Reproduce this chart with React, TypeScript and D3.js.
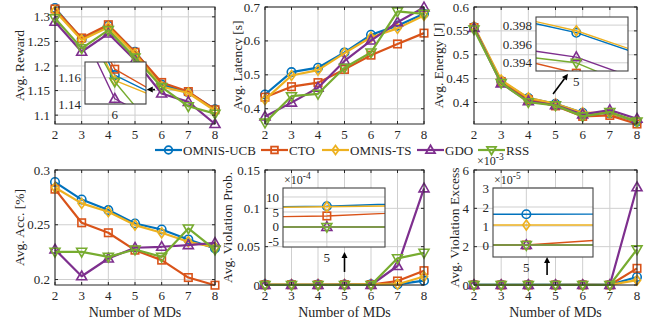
import React from "react";
import * as d3 from "d3";

// x values and series
const mds = [2, 3, 4, 5, 6, 7, 8];
const methods = ["OMNIS-UCB", "CTO", "OMNIS-TS", "GDO", "RSS"];
const colors = ["#0072BD", "#D95319", "#EDB120", "#7E2F8E", "#77AC30"];
const markers = ["o", "s", "d", "^", "v"];

// Avg. Reward
const rewardUCB = [1.318, 1.255, 1.282, 1.229, 1.162, 1.146, 1.112];
const rewardCTO = [1.316, 1.257, 1.284, 1.228, 1.1665, 1.148, 1.111];
const rewardTS = [1.312, 1.253, 1.279, 1.225, 1.158, 1.145, 1.109];
const rewardGDO = [1.29, 1.229, 1.266, 1.212, 1.144, 1.127, 1.082];
const rewardRSS = [1.297, 1.236, 1.273, 1.217, 1.157, 1.118, 1.103];

// Avg. Latency [s]
const latUCB = [0.442, 0.508, 0.521, 0.566, 0.618, 0.645, 0.68];
const latCTO = [0.434, 0.465, 0.477, 0.516, 0.558, 0.591, 0.623];
const latTS = [0.427, 0.498, 0.514, 0.564, 0.611, 0.637, 0.675];
const latGDO = [0.377, 0.418, 0.462, 0.541, 0.601, 0.655, 0.699];
const latRSS = [0.359, 0.437, 0.444, 0.521, 0.566, 0.687, 0.68];

// Avg. Energy [J]
const enUCB = [0.558, 0.445, 0.4092, 0.3972, 0.3786, 0.377, 0.36];
const enCTO = [0.557, 0.444, 0.406, 0.3929, 0.371, 0.373, 0.355];
const enTS = [0.559, 0.447, 0.4098, 0.3974, 0.3787, 0.378, 0.361];
const enGDO = [0.556, 0.44, 0.4026, 0.3946, 0.375, 0.384, 0.366];
const enRSS = [0.553, 0.441, 0.4006, 0.394, 0.371, 0.38, 0.36];

// Avg. Acc. [%]
const accUCB = [0.289, 0.273, 0.2634, 0.2512, 0.2457, 0.2366, 0.2284];
const accCTO = [0.2825, 0.2518, 0.2427, 0.2268, 0.2177, 0.2018, 0.1948];
const accTS = [0.284, 0.2695, 0.2619, 0.2497, 0.2427, 0.2345, 0.2293];
const accGDO = [0.2274, 0.203, 0.2192, 0.229, 0.2299, 0.2314, 0.2335];
const accRSS = [0.2253, 0.2253, 0.2207, 0.2274, 0.2207, 0.2466, 0.2274];

// Avg. Violation Prob.
const vpUCB = [5.5e-4, 6e-4, 6.6e-4, 6.9e-4, 8.1e-4, 8e-4, 0.0057];
const vpCTO = [2.5e-4, 3e-4, 3.16e-4, 3.67e-4, 5.2e-4, 0.0052, 0.0187];
const vpTS = [5e-4, 6e-4, 6.3e-4, 6.75e-4, 7.2e-4, 0.001, 0.011];
const vpGDO = [0, 0, 0, 0, 0, 0.0248, 0.126];
const vpRSS = [0, 0, 0, 0, 0, 0.0348, 0.042];

// Avg. Violation Excess
const veUCB = [1.62e-5, 1.62e-5, 1.62e-5, 1.62e-5, 1.63e-5, 1.63e-5, 4.2e-4];
const veCTO = [0, 0, 0, 0, 3e-6, 0, 8.7e-4];
const veTS = [1.05e-5, 1.05e-5, 1.05e-5, 1.05e-5, 1.05e-5, 1.05e-5, 2.5e-4];
const veGDO = [0, 0, 0, 0, 0, 0, 5.1e-3];
const veRSS = [0, 0, 0, 0, 0, 0, 1.86e-3];

const FONT = "Liberation Serif, DejaVu Serif, serif";
const AX = "#262626";
const GRID = "#cfcfcf";

const panels = [
  {
    box: [55, 7, 215, 124], ylabel: "Avg. Reward", yDomain: [1.082, 1.32],
    yTicks: [1.1, 1.15, 1.2, 1.25, 1.3], labelOff: 36,
    series: [rewardUCB, rewardCTO, rewardTS, rewardGDO, rewardRSS],
    inset: { box: [85, 62, 146, 104], xDomain: [5.3, 6.735], yDomain: [1.14, 1.172], xTicks: [6], yTicks: [1.14, 1.16], exp: 0 },
    arrow: [[5.75, 1.152], [5.44, 1.152]],
  },
  {
    box: [265, 7, 424, 124], ylabel: "Avg. Latency [s]", yDomain: [0.355, 0.7],
    yTicks: [0.4, 0.5, 0.6, 0.7], labelOff: 28,
    series: [latUCB, latCTO, latTS, latGDO, latRSS],
  },
  {
    box: [474, 7, 637, 124], ylabel: "Avg. Energy [J]", yDomain: [0.355, 0.6],
    yTicks: [0.4, 0.45, 0.5, 0.55, 0.6], labelOff: 36,
    series: [enUCB, enCTO, enTS, enGDO, enRSS],
    inset: { box: [536, 17, 628, 71], xDomain: [4.922, 5.1], yDomain: [0.39313, 0.39886], xTicks: [5], yTicks: [0.394, 0.396, 0.398], exp: 0 },
    arrow: [[4.91, 0.418], [5.46, 0.46]],
  },
  {
    box: [55, 170, 215, 285], ylabel: "Avg. Acc. [%]", yDomain: [0.195, 0.3],
    yTicks: [0.2, 0.25, 0.3], labelOff: 36, xlabel: true,
    series: [accUCB, accCTO, accTS, accGDO, accRSS],
  },
  {
    box: [265, 170, 424, 285], ylabel: "Avg. Violation Prob.", yDomain: [0, 0.15],
    yTicks: [0, 0.05, 0.1, 0.15], labelOff: 38, xlabel: true,
    series: [vpUCB, vpCTO, vpTS, vpGDO, vpRSS],
    inset: { box: [283, 188, 385, 247], xDomain: [4.57, 5.57], yDomain: [-6.7e-4, 13e-4], xTicks: [5], yTicks: [-5e-4, 0, 5e-4, 10e-4], exp: -4 },
    arrow: [[5, 0.017], [5, 0.043]],
  },
  {
    box: [474, 170, 637, 285], ylabel: "Avg. Violation Excess", yDomain: [0, 6e-3],
    yTicks: [0, 2e-3, 4e-3, 6e-3], labelOff: 20, xlabel: true, exp: -3,
    series: [veUCB, veCTO, veTS, veGDO, veRSS],
    inset: { box: [493, 188, 593, 257], xDomain: [4.6, 5.8], yDomain: [-0.63e-5, 3e-5], xTicks: [5], yTicks: [0, 1e-5, 2e-5, 3e-5], exp: -5 },
    arrow: [[4.69, 0.52e-3], [4.69, 1.46e-3]],
  },
];

const legendX = [155, 261, 322, 417, 478];

function fmt(v: number, exp = 0) {
  return String(+(v / Math.pow(10, exp)).toFixed(4));
}

function Marker({ t, x, y, c, s = 10, w = 1.6 }: any) {
  const h = s / 2;
  const common = { fill: "none", stroke: c, strokeWidth: w };
  if (t === "o") return <circle cx={x} cy={y} r={h * 0.85} {...common} />;
  if (t === "s") return <rect x={x - h * 0.75} y={y - h * 0.75} width={h * 1.5} height={h * 1.5} {...common} />;
  if (t === "d") return <polygon points={`${x},${y - h} ${x + h * 0.72},${y} ${x},${y + h} ${x - h * 0.72},${y}`} {...common} />;
  if (t === "^") return <polygon points={`${x},${y - h * 1.05} ${x + h},${y + h * 0.7} ${x - h},${y + h * 0.7}`} {...common} />;
  return <polygon points={`${x},${y + h * 1.05} ${x + h},${y - h * 0.7} ${x - h},${y - h * 0.7}`} {...common} />;
}

function Exponent({ x, y, exp }: any) {
  return (
    <text x={x} y={y} fontSize={12} fill={AX} style={{ fontFamily: FONT }}>
      ×10<tspan dy={-5} fontSize={9.5}>{exp}</tspan>
    </text>
  );
}

function Lines({ x, y, series, lw, ms, clip }: any) {
  const line = d3.line<number>().x((_, i) => x(mds[i])).y((d) => y(d));
  return (
    <g clipPath={clip}>
      {series.map((vals: number[], k: number) => (
        <g key={k}>
          <path d={line(vals) || ""} fill="none" stroke={colors[k]} strokeWidth={lw} strokeLinejoin="round" />
          {vals.map((v, i) => (
            <Marker key={i} t={markers[k]} x={x(mds[i])} y={y(v)} c={colors[k]} s={ms} />
          ))}
        </g>
      ))}
    </g>
  );
}

function Arrow({ from, to }: any) {
  const [x1, y1] = from, [x2, y2] = to;
  const a = Math.atan2(y2 - y1, x2 - x1);
  const L = 6, Wd = 3;
  const bx = x2 - L * Math.cos(a), by = y2 - L * Math.sin(a);
  const px = -Math.sin(a) * Wd, py = Math.cos(a) * Wd;
  return (
    <g>
      <line x1={x1} y1={y1} x2={bx} y2={by} stroke="#000" strokeWidth={1.6} />
      <polygon points={`${x2},${y2} ${bx + px},${by + py} ${bx - px},${by - py}`} fill="#000" />
    </g>
  );
}

function Inset({ inset, series, id }: any) {
  const [x0, y0, x1, y1] = inset.box;
  const x = d3.scaleLinear().domain(inset.xDomain).range([x0, x1]);
  const y = d3.scaleLinear().domain(inset.yDomain).range([y1, y0]);
  return (
    <g>
      <defs>
        <clipPath id={id}>
          <rect x={x0} y={y0} width={x1 - x0} height={y1 - y0} />
        </clipPath>
      </defs>
      <rect x={x0} y={y0} width={x1 - x0} height={y1 - y0} fill="#fff" />
      {inset.xTicks.map((t: number) => (
        <line key={"gx" + t} x1={x(t)} x2={x(t)} y1={y0} y2={y1} stroke={GRID} />
      ))}
      {inset.yTicks.map((t: number) => (
        <line key={"gy" + t} x1={x0} x2={x1} y1={y(t)} y2={y(t)} stroke={GRID} />
      ))}
      <Lines x={x} y={y} series={series} lw={1.4} ms={10} clip={`url(#${id})`} />
      <rect x={x0} y={y0} width={x1 - x0} height={y1 - y0} fill="none" stroke="#444" strokeWidth={1.1} />
      {inset.yTicks.map((t: number) => (
        <text key={"ly" + t} x={x0 - 4} y={y(t)} dy="0.35em" textAnchor="end" fontSize={13} fill={AX} style={{ fontFamily: FONT }}>
          {fmt(t, inset.exp)}
        </text>
      ))}
      {inset.xTicks.map((t: number) => (
        <text key={"lx" + t} x={x(t)} y={y1 + 15} textAnchor="middle" fontSize={13} fill={AX} style={{ fontFamily: FONT }}>
          {fmt(t)}
        </text>
      ))}
      {inset.exp !== 0 && <Exponent x={x0 + 1} y={y0 - 4} exp={inset.exp} />}
    </g>
  );
}

function Panel({ p, idx }: any) {
  const [x0, y0, x1, y1] = p.box;
  const x = d3.scaleLinear().domain([2, 8]).range([x0, x1]);
  const y = d3.scaleLinear().domain(p.yDomain).range([y1, y0]);
  const exp = p.exp || 0;
  const tl = 3;
  return (
    <g>
      {mds.map((t) => (
        <line key={"gx" + t} x1={x(t)} x2={x(t)} y1={y0} y2={y1} stroke={GRID} />
      ))}
      {p.yTicks.map((t: number) => (
        <line key={"gy" + t} x1={x0} x2={x1} y1={y(t)} y2={y(t)} stroke={GRID} />
      ))}
      <Lines x={x} y={y} series={p.series} lw={2.2} ms={10} />
      <rect x={x0} y={y0} width={x1 - x0} height={y1 - y0} fill="none" stroke={AX} strokeWidth={1} />
      {mds.map((t) => (
        <g key={"tx" + t}>
          <line x1={x(t)} x2={x(t)} y1={y1} y2={y1 - tl} stroke={AX} />
          <line x1={x(t)} x2={x(t)} y1={y0} y2={y0 + tl} stroke={AX} />
          <text x={x(t)} y={y1 + 15} textAnchor="middle" fontSize={13} fill={AX} style={{ fontFamily: FONT }}>{t}</text>
        </g>
      ))}
      {p.yTicks.map((t: number) => (
        <g key={"ty" + t}>
          <line x1={x0} x2={x0 + tl} y1={y(t)} y2={y(t)} stroke={AX} />
          <line x1={x1} x2={x1 - tl} y1={y(t)} y2={y(t)} stroke={AX} />
          <text x={x0 - 5} y={y(t)} dy="0.35em" textAnchor="end" fontSize={13} fill={AX} style={{ fontFamily: FONT }}>
            {fmt(t, exp)}
          </text>
        </g>
      ))}
      {exp !== 0 && <Exponent x={x0 + 3} y={y0 - 5} exp={exp} />}
      <text
        transform={`translate(${x0 - p.labelOff},${(y0 + y1) / 2}) rotate(-90)`}
        textAnchor="middle" dy="0.35em" fontSize={13.5} fill={AX} style={{ fontFamily: FONT }}
      >
        {p.ylabel}
      </text>
      {p.xlabel && (
        <text x={(x0 + x1) / 2} y={y1 + 32} textAnchor="middle" fontSize={14} fill={AX} style={{ fontFamily: FONT }}>
          Number of MDs
        </text>
      )}
      {p.inset && <Inset inset={p.inset} series={p.series} id={"clip" + idx} />}
      {p.arrow && (
        <Arrow from={[x(p.arrow[0][0]), y(p.arrow[0][1])]} to={[x(p.arrow[1][0]), y(p.arrow[1][1])]} />
      )}
    </g>
  );
}

function Legend() {
  const cy = 150;
  return (
    <g>
      {methods.map((m, k) => (
        <g key={m}>
          <line x1={legendX[k]} x2={legendX[k] + 27} y1={cy} y2={cy} stroke={colors[k]} strokeWidth={2.2} />
          <Marker t={markers[k]} x={legendX[k] + 13.5} y={cy} c={colors[k]} s={9} w={1.8} />
          <text x={legendX[k] + 28} y={cy} dy="0.35em" fontSize={13} fill={AX} style={{ fontFamily: FONT }}>{m}</text>
        </g>
      ))}
    </g>
  );
}

export default function App() {
  return (
    <svg width={649} height={326} style={{ position: "absolute", left: 0, top: 0, background: "#fff" }}>
      <rect width={649} height={326} fill="#fff" />
      {panels.map((p, i) => (
        <Panel key={i} p={p} idx={i} />
      ))}
      <Legend />
    </svg>
  );
}
